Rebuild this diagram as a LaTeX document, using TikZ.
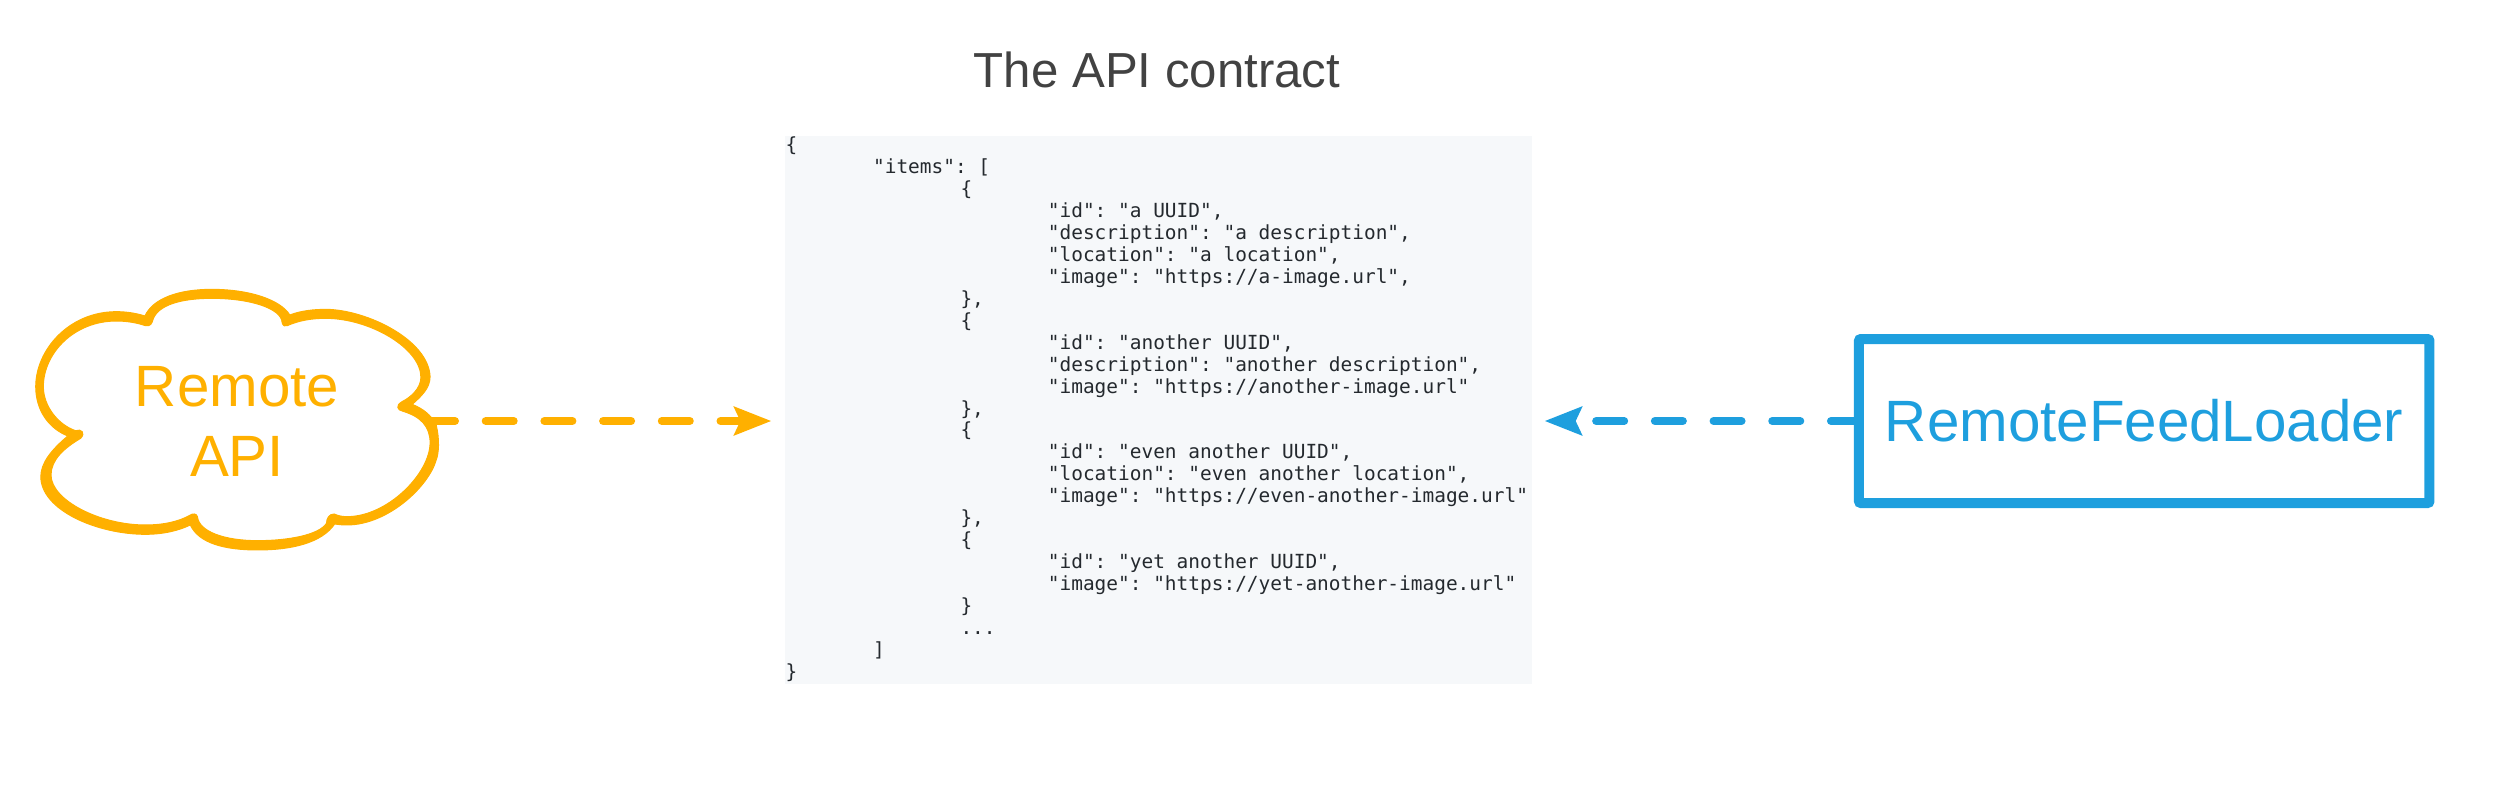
\documentclass[tikz,border=0pt]{standalone}
\usepackage{fontspec}
\setmainfont{Liberation Sans}
\newfontfamily\codefont{DejaVu Sans Mono}
\usetikzlibrary{arrows.meta}
\definecolor{cloudorange}{HTML}{FFB000}
\definecolor{loaderblue}{HTML}{1E9FDE}
\definecolor{panelgrey}{HTML}{F6F8FA}
\definecolor{titlegrey}{HTML}{424242}
\definecolor{codegrey}{HTML}{24292E}
\newcommand{\tabA}{\hspace*{87.4pt}}
\newcommand{\tabB}{\hspace*{174.8pt}}
\newcommand{\tabC}{\hspace*{262.2pt}}
\tikzset{
  biglabel/.style={font=\fontsize{58.3}{70.6}\selectfont},
  contractarrow/.style={line width=8pt,line cap=round,dash pattern=on 28pt off 30.7pt,
    -{Stealth[length=37pt,width=28pt,inset=6pt]}},
}
\begin{document}
\begin{tikzpicture}[x=1pt,y=-1pt]
\useasboundingbox (0,0) rectangle (2500,788);
\node[font=\fontsize{49.2}{58}\selectfont,text=titlegrey,anchor=base,inner sep=0] (title) at (1157,87) {The API contract};
\node[fill=panelgrey,anchor=north west,inner sep=0,outer sep=0,minimum width=746.5pt,minimum height=548.6pt] (contract) at (785,135.7) {};
\node[anchor=north west,inner sep=0,align=left,text=codegrey,
  font=\codefont\fontsize{19.45}{21.96}\selectfont\frenchspacing] (contracttext) at (785.5,136.5) {%
\{\\
\tabA"items": [\\
\tabB\{\\
\tabC"id": "a UUID",\\
\tabC"description": "a description",\\
\tabC"location": "a location",\\
\tabC"image": "https://a-image.url",\\
\tabB\},\\
\tabB\{\\
\tabC"id": "another UUID",\\
\tabC"description": "another description",\\
\tabC"image": "https://another-image.url"\\
\tabB\},\\
\tabB\{\\
\tabC"id": "even another UUID",\\
\tabC"location": "even another location",\\
\tabC"image": "https://even-another-image.url"\\
\tabB\},\\
\tabB\{\\
\tabC"id": "yet another UUID",\\
\tabC"image": "https://yet-another-image.url"\\
\tabB\}\\
\tabB...\\
\tabA]\\
\}};
% cloud outline
\begin{scope}[shift={(0,260)},x=0.5102pt,y=-0.3333pt]
\filldraw[cloudorange,even odd rule,line width=1pt,line join=round]
 (284,168) .. controls (300,115) and (350,88) .. (415,88)
 .. controls (490,88) and (550,120) .. (568,165)
 .. controls (590,152) and (615,148) .. (640,148)
 .. controls (720,150) and (840,240) .. (843,350)
 .. controls (843,385) and (825,410) .. (808,433)
 .. controls (830,447) and (845,465) .. (855,495)
 .. controls (862,540) and (860,580) .. (855,600)
 .. controls (840,680) and (760,795) .. (680,795)
 .. controls (672,795) and (664,794) .. (656,792)
 .. controls (630,850) and (570,870) .. (505,870)
 .. controls (440,870) and (390,850) .. (373,795)
 .. controls (350,812) and (320,823) .. (285,823)
 .. controls (190,823) and (80,750) .. (80,650)
 .. controls (80,610) and (100,570) .. (133,528)
 .. controls (95,505) and (70,450) .. (70,380)
 .. controls (70,270) and (135,155) .. (228,155)
 .. controls (248,155) and (268,160) .. (284,168) -- cycle
 (300,178) .. controls (310,135) and (355,115) .. (415,115)
 .. controls (490,115) and (552,145) .. (553,188)
 .. controls (555,198) and (558,200) .. (563,197)
 .. controls (585,182) and (610,175) .. (638,175)
 .. controls (725,175) and (825,265) .. (825,352)
 .. controls (825,385) and (805,412) .. (788,425)
 .. controls (775,437) and (778,450) .. (790,454)
 .. controls (825,470) and (843,500) .. (843,548)
 .. controls (843,640) and (760,770) .. (680,770)
 .. controls (670,770) and (662,767) .. (655,762)
 .. controls (645,762) and (640,775) .. (640,790)
 .. controls (625,825) and (565,842) .. (505,842)
 .. controls (440,842) and (390,815) .. (387,770)
 .. controls (385,760) and (378,760) .. (372,766)
 .. controls (350,785) and (320,795) .. (285,795)
 .. controls (195,795) and (100,720) .. (100,645)
 .. controls (100,600) and (125,565) .. (158,535)
 .. controls (168,520) and (160,505) .. (148,512)
 .. controls (115,495) and (85,440) .. (85,380)
 .. controls (85,280) and (145,183) .. (228,183)
 .. controls (248,183) and (268,188) .. (285,197)
 .. controls (295,200) and (298,190) .. (300,178) -- cycle;
\end{scope}
\node[biglabel,text=cloudorange,align=center,inner sep=0] (cloudlabel) at (237,421.5) {Remote\\API};
\node[biglabel,text=loaderblue,draw=loaderblue,line width=10pt,rounded corners=2pt,
  inner sep=0,outer sep=0,minimum width=570.5pt,minimum height=164pt] (loader) at (2144.2,421) {RemoteFeedLoader};
\coordinate (cloudout) at (427,421);
\coordinate (contractleft) at (771.4,421);
\coordinate (contractright) at (1544.6,421);
\draw[contractarrow,cloudorange] (cloudout) -- (contractleft);
\draw[contractarrow,loaderblue] (loader.west) -- (contractright);
\end{tikzpicture}
\end{document}
